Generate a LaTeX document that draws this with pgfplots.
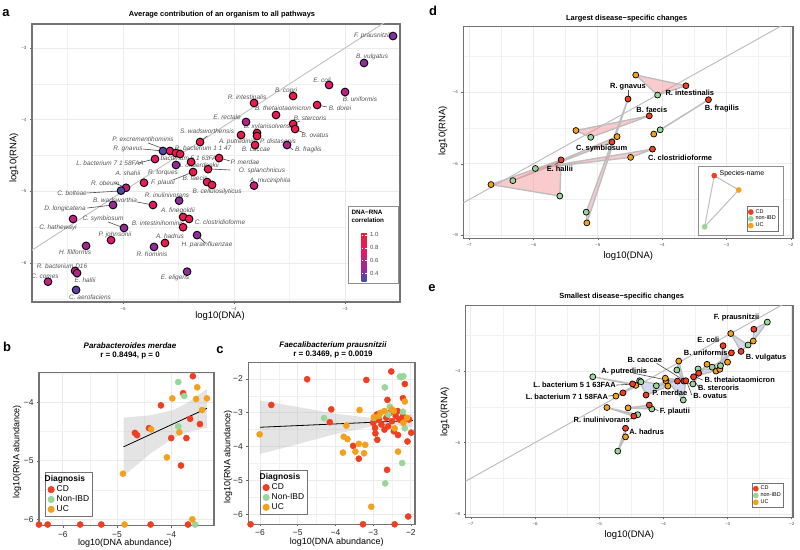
\documentclass[border=0pt]{standalone}
\usepackage{fontspec}
\setmainfont{Liberation Sans}
\usepackage{pgfplots}
\pgfplotsset{compat=1.18}
\newcommand{\fs}[1]{\fontsize{#1}{#1}\selectfont}
\definecolor{cd}{RGB}{240,62,32}
\definecolor{non}{RGB}{152,214,154}
\definecolor{uc}{RGB}{245,160,28}
\definecolor{gridc}{RGB}{235,235,235}
\definecolor{boxc}{RGB}{115,115,115}
\definecolor{labc}{RGB}{85,85,85}
\definecolor{linec}{RGB}{190,190,190}
\definecolor{pinkf}{RGB}{242,140,145}
\definecolor{bluef}{RGB}{170,180,220}
\pgfplotsset{
 gg/.style={scale only axis, anchor=south west,
  axis line style={boxc, line width=1.1pt},
  grid=both, major grid style={gridc, line width=0.8pt},
  minor grid style={gridc!70, line width=0.45pt},
  xtick pos=bottom, ytick pos=left, tick align=outside,
  major tick length=2pt, minor tick length=0pt,
  tick style={black!60, line width=0.5pt},
  /pgf/number format/assume math mode=true},
 smallticks/.style={tick label style={font=\fs{4.5}, text=black!70}},
 lead/.style={black!70, line width=0.6pt, forget plot},
 tri/.style={fill=pinkf, fill opacity=0.45, draw=linec, line width=1.4pt, forget plot},
 trib/.style={fill=bluef, fill opacity=0.5, draw=linec, line width=1.4pt, forget plot},
 ptD/.style={only marks, mark=*, mark size=3pt, mark options={draw=black, fill=#1, line width=0.7pt}, forget plot},
 ptB/.style={only marks, mark=*, mark size=3.1pt, color=#1, forget plot},
}
\tikzset{
 labA/.style={font=\fs{6.5}\itshape, text=labc, inner sep=0pt},
 labD/.style={font=\fs{7.5}\bfseries, inner sep=0pt},
}
\begin{document}
\begin{tikzpicture}[x=1bp,y=1bp]
\useasboundingbox (0,0) rectangle (800,550);

%%%%%%%%%%%%%%%% Panel a
\begin{axis}[gg, smallticks, at={(32bp,248bp)}, width=368bp, height=278bp,
 xmin=-5.82, xmax=-2.505, ymin=-6.543, ymax=-2.665,
 xtick={-5,-4,-3}, xticklabels={−5,−4,−3}, minor xtick={-5.5,-4.5,-3.5},
 ytick={-6,-5,-4,-3}, yticklabels={−6,−5,−4,−3}, minor ytick={-6.5,-5.5,-4.5,-3.5},
 colormap={corr}{rgb255(0cm)=(60,80,170); rgb255(3cm)=(140,45,160); rgb255(8cm)=(228,22,112); rgb255(14cm)=(245,30,45)},
 point meta min=0.27, point meta max=1.03,
 colorbar, colorbar style={at={(parent axis.south east)}, anchor=south east,
   xshift=-42bp, yshift=20bp, scale only axis, width=5bp, height=49bp,
   ytick={0.4,0.6,0.8,1.0}, yticklabels={0.4,0.6,0.8,1.0},
   yticklabel style={font=\fs{6}}, major tick length=1.5pt,
   ytick style={white, line width=0.5pt}, axis line style={draw=none}}]
\addplot[linec!90, line width=1pt, forget plot] coordinates {(-6,-6)(-2.4,-2.4)};
\draw[boxc!80, line width=0.9pt, fill=white] (rel axis cs:0.861,0.065) rectangle (rel axis cs:0.997,0.342);
\node[anchor=north west, font=\fs{6.3}\bfseries, align=left, inner sep=0pt] at (rel axis cs:0.868,0.33) {DNA−RNA\\[1.5pt]correlation};
\addplot[lead] coordinates {(-4.775,-4.325)(-4.604,-4.423)};
\addplot[lead] coordinates {(-4.820,-4.409)(-4.640,-4.437)};
\addplot[lead] coordinates {(-4.865,-4.604)(-4.712,-4.548)};
\addplot[lead] coordinates {(-5.324,-5.022)(-5.018,-4.994)};
\addplot[lead] coordinates {(-5.324,-5.232)(-5.090,-5.190)};
\addplot[lead] coordinates {(-4.874,-5.148)(-4.730,-5.190)};
\addplot[lead] coordinates {(-5.135,-5.427)(-4.991,-5.510)};
\addplot[lead] coordinates {(-4.550,-4.841)(-4.369,-4.729)};
\addplot[lead] coordinates {(-4.207,-4.688)(-4.036,-4.702)};
\addplot[lead] coordinates {(-4.135,-4.534)(-4.036,-4.576)};
\addplot[lead] coordinates {(-4.333,-5.608)(-4.261,-5.720)};
\addplot[lead] coordinates {(-5.072,-4.883)(-4.973,-4.953)};
\addplot[lead] coordinates {(-4.306,-4.311)(-4.243,-4.227)};
\addplot[lead] coordinates {(-3.252,-3.795)(-3.162,-3.823)};
\addplot[lead] coordinates {(-3.468,-4.060)(-3.405,-4.018)};
\addplot[lead] coordinates {(-3.450,-4.130)(-3.369,-4.186)};
\addplot[lead] coordinates {(-3.523,-4.353)(-3.468,-4.423)};
\addplot[scatter, only marks, mark=*, mark size=3.9pt, point meta=explicit,
  scatter/use mapped color={draw=black, fill=mapped color}, mark options={line width=0.9pt}]
 table[meta=c]{
x y c
-2.568 -2.833 0.42
-2.829 -3.209 0.45
-3.144 -3.516 0.72
-3.000 -3.614 0.58
-3.468 -3.670 0.92
-3.820 -3.767 0.90
-3.252 -3.795 0.85
-3.622 -3.934 0.82
-3.892 -4.032 0.55
-3.468 -4.060 0.85
-3.450 -4.130 0.88
-3.793 -4.186 0.90
-3.793 -4.228 0.88
-3.937 -4.214 0.90
-3.811 -4.353 0.85
-3.523 -4.353 0.55
-4.306 -4.311 0.90
-4.640 -4.437 0.32
-4.577 -4.437 0.80
-4.523 -4.465 0.85
-4.486 -4.479 0.85
-4.135 -4.535 0.88
-4.712 -4.549 0.75
-4.387 -4.590 0.85
-4.523 -4.632 0.45
-4.234 -4.690 0.90
-4.369 -4.730 0.88
-4.243 -4.870 0.85
-4.198 -4.910 0.85
-3.820 -4.920 0.65
-4.811 -4.880 0.85
-4.973 -4.950 0.60
-5.018 -4.990 0.30
-4.495 -5.130 0.45
-4.730 -5.190 0.75
-5.090 -5.190 0.48
-5.450 -5.385 0.60
-4.459 -5.357 0.85
-4.405 -5.385 0.85
-4.991 -5.510 0.45
-4.459 -5.500 0.85
-4.333 -5.610 0.45
-5.108 -5.680 0.72
-4.622 -5.720 0.85
-5.333 -5.760 0.50
-4.721 -5.775 0.45
-5.432 -6.110 0.65
-5.414 -6.140 0.55
-5.676 -6.260 0.60
-4.423 -6.120 0.45
-5.423 -6.375 0.35
};
\node[labA] at (axis cs:-2.757,-2.833) {F. prausnitzii};
\node[labA] at (axis cs:-2.757,-3.126) {B. vulgatus};
\node[labA] at (axis cs:-3.207,-3.446) {E. coli};
\node[labA] at (axis cs:-2.865,-3.711) {B. uniformis};
\node[labA] at (axis cs:-3.532,-3.600) {B. copri};
\node[labA] at (axis cs:-3.883,-3.683) {R. intestinalis};
\node[labA] at (axis cs:-3.045,-3.837) {B. dorei};
\node[labA] at (axis cs:-3.559,-3.837) {B. thetaiotaomicron};
\node[labA] at (axis cs:-4.063,-3.962) {E. rectale};
\node[labA] at (axis cs:-3.315,-3.976) {B. stercoris};
\node[labA] at (axis cs:-3.703,-4.102) {B. xylanisolvens};
\node[labA] at (axis cs:-3.270,-4.213) {B. ovatus};
\node[labA] at (axis cs:-4.243,-4.158) {S. wadsworthensis};
\node[labA] at (axis cs:-3.973,-4.311) {A. putredinis};
\node[labA] at (axis cs:-3.604,-4.297) {P. distasonis};
\node[labA] at (axis cs:-3.801,-4.420) {B. caccae};
\node[labA] at (axis cs:-3.330,-4.420) {B. fragilis};
\node[labA] at (axis cs:-4.820,-4.269) {P. excrementihominis};
\node[labA] at (axis cs:-4.955,-4.409) {R. gnavus};
\node[labA] at (axis cs:-4.279,-4.395) {R. bacterium 1 1 47};
\node[labA] at (axis cs:-4.423,-4.534) {L. bacterium 5 1 63FAA};
\node[labA] at (axis cs:-3.901,-4.590) {P. merdae};
\node[labA] at (axis cs:-5.117,-4.604) {L. bacterium 7 1 58FAA};
\node[labA] at (axis cs:-4.324,-4.632) {A. onderdonkii};
\node[labA] at (axis cs:-4.955,-4.743) {A. shahii};
\node[labA] at (axis cs:-4.640,-4.743) {R. torques};
\node[labA] at (axis cs:-3.748,-4.715) {O. splanchnicus};
\node[labA] at (axis cs:-4.640,-4.883) {F. plautii};
\node[labA] at (axis cs:-4.351,-4.813) {B. faecis};
\node[labA] at (axis cs:-3.676,-4.855) {A. muciniphila};
\node[labA] at (axis cs:-5.162,-4.883) {R. obeum};
\node[labA] at (axis cs:-5.459,-5.022) {C. bolteae};
\node[labA] at (axis cs:-4.153,-5.008) {B. cellulosilyticus};
\node[labA] at (axis cs:-4.604,-5.050) {R. inulinivorans};
\node[labA] at (axis cs:-5.072,-5.120) {B. wadsworthia};
\node[labA] at (axis cs:-5.523,-5.245) {D. longicatena};
\node[labA] at (axis cs:-4.505,-5.273) {A. finegoldii};
\node[labA] at (axis cs:-5.180,-5.385) {C. symbiosum};
\node[labA] at (axis cs:-4.126,-5.427) {C. clostridioforme};
\node[labA] at (axis cs:-4.685,-5.441) {B. intestinihominis};
\node[labA] at (axis cs:-5.586,-5.510) {C. hathewayi};
\node[labA] at (axis cs:-5.072,-5.608) {P. johnsonii};
\node[labA] at (axis cs:-4.577,-5.622) {A. hadrus};
\node[labA] at (axis cs:-4.243,-5.748) {H. parainfluenzae};
\node[labA] at (axis cs:-5.432,-5.845) {H. filiformis};
\node[labA] at (axis cs:-4.739,-5.873) {R. hominis};
\node[labA] at (axis cs:-5.550,-6.040) {R. bacterium D16};
\node[labA] at (axis cs:-5.703,-6.180) {C. comes};
\node[labA] at (axis cs:-5.342,-6.236) {E. hallii};
\node[labA] at (axis cs:-4.532,-6.208) {E. eligens};
\node[labA] at (axis cs:-5.297,-6.473) {C. aerofaciens};
\end{axis}

%%%%%%%%%%%%%%%% Panel b
\begin{axis}[gg, at={(39bp,24.3bp)}, width=175bp, height=153bp, clip=false,
 xmin=-6.44, xmax=-3.21, ymin=-6.11, ymax=-3.49,
 xtick={-6,-5,-4}, xticklabels={−6,−5,−4}, minor xtick={-5.5,-4.5,-3.5},
 ytick={-6,-5,-4}, yticklabels={−6,−5,−4}, minor ytick={-5.5,-4.5,-3.5},
 tick label style={font=\fs{8.5}, text=black!85},
 legend style={at={(0.034,0.057)}, anchor=south west, draw=boxc, line width=0.9pt,
   font=\fs{8.5}, inner sep=1.5pt, row sep=-1.5pt, legend cell align=left}]
\addplot[ptB=cd] coordinates {(-3.60,-3.55)(-3.78,-3.84)(-4.19,-4.05)(-3.65,-4.28)(-3.47,-4.37)(-4.41,-4.44)(-4.67,-4.52)(-4.63,-4.56)(-4.00,-4.61)(-3.72,-4.61)(-3.82,-5.08)(-6.44,-6.09)(-6.28,-6.09)(-5.68,-6.09)(-5.29,-6.09)(-4.38,-6.09)(-3.69,-6.09)};
\addplot[ptB=non] coordinates {(-3.87,-3.65)(-3.76,-3.89)(-3.87,-4.41)(-3.56,-6.09)};
\addplot[ptB=uc] coordinates {(-3.52,-3.74)(-3.98,-3.93)(-3.34,-3.93)(-3.54,-3.94)(-3.43,-4.13)(-4.37,-4.46)(-3.85,-4.51)(-4.08,-4.94)(-4.89,-5.22)(-3.61,-6.00)(-4.86,-6.09)};
\addplot[fill=gray!60, fill opacity=0.35, draw=none, forget plot] coordinates {(-4.88,-4.26)(-4.39,-4.22)(-3.96,-4.13)(-3.71,-4.01)(-3.34,-3.77)(-3.34,-4.43)(-3.71,-4.51)(-3.96,-4.61)(-4.39,-4.88)(-4.88,-5.26)} -- cycle;
\addplot[black, line width=0.8pt, forget plot] coordinates {(-4.88,-4.76)(-3.34,-4.10)};
\addlegendimage{empty legend}\addlegendentry{\hspace{-12pt}\textbf{Diagnosis}}
\addlegendimage{legend image code/.code={\fill[cd] (0.15cm,0cm) circle (3.1pt);}}\addlegendentry{CD}
\addlegendimage{legend image code/.code={\fill[non] (0.15cm,0cm) circle (3.1pt);}}\addlegendentry{Non-IBD}
\addlegendimage{legend image code/.code={\fill[uc] (0.15cm,0cm) circle (3.1pt);}}\addlegendentry{UC}
\end{axis}

%%%%%%%%%%%%%%%% Panel c
\begin{axis}[gg, at={(248.3bp,25.7bp)}, width=166.7bp, height=161.6bp, clip=false,
 xmin=-6.31, xmax=-1.89, ymin=-6.30, ymax=-1.52,
 xtick={-6,-5,-4,-3,-2}, xticklabels={−6,−5,−4,−3,−2}, minor xtick={-5.5,-4.5,-3.5,-2.5},
 ytick={-6,-5,-4,-3,-2}, yticklabels={−6,−5,−4,−3,−2}, minor ytick={-5.5,-4.5,-3.5,-2.5},
 tick label style={font=\fs{8.5}, text=black!85},
 legend style={at={(0.07,0.058)}, anchor=south west, draw=boxc, line width=0.9pt,
   font=\fs{8.5}, inner sep=1.5pt, row sep=-1.5pt, legend cell align=left}]
\addplot[ptB=cd] coordinates {(-4.75,-2.01)(-3.18,-2.03)(-2.52,-1.78)(-2.16,-2.15)(-4.11,-2.90)(-3.53,-3.98)(-3.38,-4.36)(-2.94,-3.61)(-2.89,-3.80)(-2.63,-4.69)(-2.07,-6.07)(-2.09,-3.85)(-1.99,-3.59)(-2.34,-3.66)(-2.21,-3.11)(-2.21,-2.57)(-2.62,-2.62)(-6.25,-6.30)(-3.27,-6.30)(-2.43,-6.30)(-5.70,-2.77)(-4.15,-3.28)(-2.90,-3.05)(-2.85,-3.20)(-2.65,-3.15)(-2.60,-3.40)(-2.55,-3.00)(-2.50,-3.25)(-2.40,-3.10)(-2.30,-3.20)(-2.05,-3.20)(-3.00,-3.30)(-2.95,-3.45)(-2.45,-3.55)(-2.70,-3.50)(-2.35,-2.95)(-2.78,-3.35)};
\addplot[ptB=non] coordinates {(-2.29,-1.93)(-2.25,-1.95)(-2.20,-1.92)(-2.69,-2.25)(-4.30,-3.16)(-2.68,-5.09)(-2.23,-4.49)(-2.16,-3.46)(-2.21,-2.97)(-2.56,-2.82)(-2.98,-3.15)(-2.60,-3.05)};
\addplot[ptB=uc] coordinates {(-3.36,-2.92)(-3.71,-3.38)(-6.01,-3.64)(-3.78,-3.71)(-3.68,-3.78)(-3.80,-4.18)(-3.38,-3.92)(-3.47,-4.15)(-3.24,-4.20)(-3.21,-3.95)(-2.98,-3.13)(-3.05,-5.78)(-2.34,-4.15)(-2.16,-2.67)(-2.43,-3.46)(-2.80,-3.00)(-2.70,-2.95)(-2.45,-2.95)(-2.20,-3.30)(-2.10,-3.15)(-2.85,-3.10)(-2.50,-2.90)};
\addplot[fill=gray!60, fill opacity=0.35, draw=none, forget plot] coordinates {(-6.0,-2.64)(-5.0,-2.83)(-4.0,-3.03)(-3.0,-3.16)(-2.5,-3.16)(-1.95,-3.03)(-1.95,-3.43)(-2.5,-3.36)(-3.0,-3.40)(-4.0,-3.63)(-5.0,-3.93)(-6.0,-4.22)} -- cycle;
\addplot[black, line width=0.8pt, forget plot] coordinates {(-6.0,-3.43)(-1.95,-3.23)};
\addlegendimage{empty legend}\addlegendentry{\hspace{-12pt}\textbf{Diagnosis}}
\addlegendimage{legend image code/.code={\fill[cd] (0.15cm,0cm) circle (3.1pt);}}\addlegendentry{CD}
\addlegendimage{legend image code/.code={\fill[non] (0.15cm,0cm) circle (3.1pt);}}\addlegendentry{Non-IBD}
\addlegendimage{legend image code/.code={\fill[uc] (0.15cm,0cm) circle (3.1pt);}}\addlegendentry{UC}
\end{axis}

%%%%%%%%%%%%%%%% Panel d
\begin{axis}[gg, smallticks, at={(463.3bp,311.7bp)}, width=329.7bp, height=211.6bp,
 xmin=-7.09, xmax=-1.966, ymin=-8.08, ymax=-2.17,
 xtick={-7,-6,-5,-4,-3,-2}, xticklabels={−7,−6,−5,−4,−3,−2}, minor xtick={-6.5,-5.5,-4.5,-3.5,-2.5},
 ytick={-8,-6,-4}, yticklabels={−8,−6,−4}, minor ytick={-7,-5,-3},
 legend style={at={(0.958,0.031)}, anchor=south east, draw=boxc, line width=0.9pt,
   font=\fs{5.5}, inner sep=1pt, row sep=-2.5pt, legend cell align=left}]
\addplot[linec, line width=1pt, forget plot] coordinates {(-8,-8)(-1.5,-1.5)};
\addplot[tri] coordinates {(-3.63,-3.82)(-4.07,-4.08)(-4.41,-3.52)} -- cycle;
\addplot[tri] coordinates {(-3.28,-4.21)(-4.03,-5.05)(-4.13,-5.17)} -- cycle;
\addplot[tri] coordinates {(-4.20,-4.66)(-5.11,-5.26)(-5.34,-5.07)} -- cycle;
\addplot[tri] coordinates {(-4.53,-4.19)(-5.18,-7.35)(-5.17,-7.65)} -- cycle;
\addplot[tri] coordinates {(-4.78,-5.39)(-6.32,-6.47)(-4.70,-5.24)} -- cycle;
\addplot[tri] coordinates {(-4.15,-5.59)(-5.97,-6.13)(-4.49,-5.82)} -- cycle;
\addplot[tri] coordinates {(-5.57,-5.89)(-5.59,-6.90)(-6.66,-6.58)} -- cycle;
\addplot[ptD=uc] coordinates {(-4.41,-3.52)(-5.34,-5.07)(-4.70,-5.24)(-4.13,-5.17)(-4.49,-5.82)(-6.66,-6.58)(-5.17,-7.65)};
\addplot[ptD=non] coordinates {(-4.07,-4.08)(-4.03,-5.05)(-5.11,-5.26)(-5.97,-6.13)(-6.32,-6.47)(-5.59,-6.90)(-5.18,-7.35)};
\addplot[ptD=cd] coordinates {(-3.63,-3.82)(-4.53,-4.19)(-3.28,-4.21)(-4.20,-4.66)(-4.78,-5.39)(-4.15,-5.59)(-5.57,-5.89)};
\addplot[lead] coordinates {(-4.53,-3.95)(-4.53,-4.10)};
\addplot[lead] coordinates {(-4.87,-5.48)(-4.80,-5.42)};
\addplot[lead] coordinates {(-5.66,-6.02)(-5.59,-5.94)};
\node[labD] at (axis cs:-4.53,-3.86) {R. gnavus};
\node[labD] at (axis cs:-3.57,-4.01) {R. intestinalis};
\node[labD] at (axis cs:-3.07,-4.46) {B. fragilis};
\node[labD] at (axis cs:-4.16,-4.48) {B. faecis};
\node[labD] at (axis cs:-4.94,-5.57) {C. symbiosum};
\node[labD] at (axis cs:-3.72,-5.82) {C. clostridioforme};
\node[labD] at (axis cs:-5.59,-6.15) {E. hallii};
\draw[boxc!80, line width=0.9pt, fill=white] (axis cs:-3.43,-6.08) rectangle (axis cs:-2.12,-7.99);
\addplot[linec, line width=1pt, forget plot] coordinates {(-3.19,-6.33)(-2.81,-6.73)(-3.34,-7.76)} -- cycle;
\addplot[ptB=cd, mark size=2.6pt] coordinates {(-3.19,-6.33)};
\addplot[ptB=uc, mark size=2.6pt] coordinates {(-2.81,-6.73)};
\addplot[ptB=non, mark size=2.6pt] coordinates {(-3.34,-7.76)};
\node[anchor=west, font=\fs{7}, inner sep=0pt] at (axis cs:-3.11,-6.27) {Species-name};
\addlegendimage{legend image code/.code={\fill[cd] (0.1cm,0cm) circle (2.4pt);}}\addlegendentry{CD}
\addlegendimage{legend image code/.code={\fill[non] (0.1cm,0cm) circle (2.4pt);}}\addlegendentry{non-IBD}
\addlegendimage{legend image code/.code={\fill[uc] (0.1cm,0cm) circle (2.4pt);}}\addlegendentry{UC}
\end{axis}

%%%%%%%%%%%%%%%% Panel e
\begin{axis}[gg, smallticks, at={(465.7bp,32.7bp)}, width=327.3bp, height=212bp,
 xmin=-7.08, xmax=-1.98, ymin=-8.09, ymax=-2.16,
 xtick={-7,-6,-5,-4,-3,-2}, xticklabels={−7,−6,−5,−4,−3,−2}, minor xtick={-6.5,-5.5,-4.5,-3.5,-2.5},
 ytick={-8,-6,-4}, yticklabels={−8,−6,−4}, minor ytick={-7,-5,-3},
 legend style={at={(0.973,0.042)}, anchor=south east, draw=boxc, line width=0.9pt,
   font=\fs{5.5}, inner sep=1pt, row sep=-2.5pt, legend cell align=left}]
\addplot[linec, line width=1pt, forget plot] coordinates {(-8,-8)(-1.5,-1.5)};
\addplot[trib] coordinates {(-2.59,-2.83)(-2.38,-2.63)(-2.60,-3.16)} -- cycle;
\addplot[trib] coordinates {(-2.79,-3.45)(-2.68,-3.27)(-2.95,-2.95)} -- cycle;
\addplot[trib] coordinates {(-3.07,-3.29)(-3.11,-3.85)(-3.00,-3.75)} -- cycle;
\addplot[trib] coordinates {(-2.94,-3.49)(-3.24,-3.89)(-3.18,-4.00)} -- cycle;
\addplot[trib] coordinates {(-3.68,-4.28)(-3.79,-3.97)(-3.76,-3.72)} -- cycle;
\addplot[trib] coordinates {(-3.45,-4.06)(-3.54,-4.36)(-3.32,-3.81)} -- cycle;
\addplot[trib] coordinates {(-3.53,-4.16)(-3.46,-3.94)(-3.12,-3.95)} -- cycle;
\addplot[trib] coordinates {(-3.78,-4.28)(-4.11,-4.41)(-3.96,-4.27)} -- cycle;
\addplot[trib] coordinates {(-3.65,-4.27)(-3.69,-4.81)(-3.97,-4.20)} -- cycle;
\addplot[trib] coordinates {(-4.27,-4.67)(-4.37,-4.27)(-3.93,-4.42)} -- cycle;
\addplot[trib] coordinates {(-4.22,-4.95)(-4.18,-5.06)(-4.55,-5.03)} -- cycle;
\addplot[trib] coordinates {(-4.48,-4.36)(-5.10,-4.16)(-4.43,-4.40)} -- cycle;
\addplot[trib] coordinates {(-4.63,-4.61)(-4.35,-4.30)(-4.74,-4.70)} -- cycle;
\addplot[trib] coordinates {(-4.46,-5.26)(-4.40,-5.22)(-4.88,-5.02)} -- cycle;
\addplot[trib] coordinates {(-4.59,-5.60)(-4.71,-6.24)(-4.59,-5.84)} -- cycle;
\addplot[ptD=uc] coordinates {(-2.60,-3.16)(-2.95,-2.95)(-3.00,-3.75)(-3.18,-4.00)(-3.76,-3.72)(-3.32,-3.81)(-3.12,-3.95)(-3.96,-4.27)(-3.97,-4.20)(-3.93,-4.42)(-4.55,-5.03)(-4.43,-4.40)(-4.74,-4.70)(-4.88,-5.02)(-4.59,-5.84)};
\addplot[ptD=non] coordinates {(-2.38,-2.63)(-2.68,-3.27)(-3.11,-3.85)(-3.24,-3.89)(-3.79,-3.97)(-3.54,-4.36)(-3.46,-3.94)(-4.11,-4.41)(-3.69,-4.81)(-4.37,-4.27)(-4.18,-5.06)(-5.10,-4.16)(-4.35,-4.30)(-4.40,-5.22)(-4.71,-6.24)};
\addplot[ptD=cd] coordinates {(-2.59,-2.83)(-2.79,-3.45)(-3.07,-3.29)(-2.94,-3.49)(-3.68,-4.28)(-3.45,-4.06)(-3.53,-4.16)(-3.78,-4.28)(-3.65,-4.27)(-4.27,-4.67)(-4.22,-4.95)(-4.48,-4.36)(-4.63,-4.61)(-4.46,-5.26)(-4.59,-5.60)};
\addplot[lead] coordinates {(-4.103,-3.785)(-3.558,-4.392)};
\addplot[lead] coordinates {(-4.472,-4.056)(-3.947,-4.252)};
\addplot[lead] coordinates {(-4.737,-4.392)(-4.472,-4.364)};
\addplot[lead] coordinates {(-4.857,-4.699)(-4.726,-4.671)};
\addplot[lead] coordinates {(-3.386,-4.252)(-3.506,-4.159)};
\addplot[lead] coordinates {(-3.439,-4.484)(-3.522,-4.252)};
\addplot[lead] coordinates {(-3.558,-4.671)(-3.636,-4.299)};
\addplot[lead] coordinates {(-4.078,-5.119)(-4.207,-4.971)};
\addplot[lead] coordinates {(-4.530,-5.351)(-4.441,-5.278)};
\node[labD] at (axis cs:-2.86,-2.50) {F. prausnitzii};
\node[labD] at (axis cs:-3.30,-3.13) {E. coli};
\node[labD] at (axis cs:-3.34,-3.50) {B. uniformis};
\node[labD] at (axis cs:-2.40,-3.61) {B. vulgatus};
\node[labD] at (axis cs:-4.29,-3.69) {B. caccae};
\node[labD] at (axis cs:-4.61,-4.00) {A. putredinis};
\node[labD, anchor=east] at (axis cs:-4.74,-4.39) {L. bacterium 5 1 63FAA};
\node[labD, anchor=east] at (axis cs:-4.86,-4.72) {L. bacterium 7 1 58FAA};
\node[labD] at (axis cs:-2.81,-4.25) {B. thetaiotaomicron};
\node[labD] at (axis cs:-3.14,-4.48) {B. stercoris};
\node[labD] at (axis cs:-3.90,-4.60) {P. merdae};
\node[labD] at (axis cs:-3.27,-4.70) {B. ovatus};
\node[labD] at (axis cs:-3.82,-5.12) {F. plautii};
\node[labD] at (axis cs:-4.96,-5.37) {R. inulinivorans};
\node[labD] at (axis cs:-4.26,-5.70) {A. hadrus};
\addlegendimage{legend image code/.code={\fill[cd] (0.1cm,0cm) circle (2.4pt);}}\addlegendentry{CD}
\addlegendimage{legend image code/.code={\fill[non] (0.1cm,0cm) circle (2.4pt);}}\addlegendentry{non-IBD}
\addlegendimage{legend image code/.code={\fill[uc] (0.1cm,0cm) circle (2.4pt);}}\addlegendentry{UC}
\end{axis}

%%%%%%%%%%%%%%%% texts
\node[font=\fs{13}\bfseries] at (6,537) {a};
\node[font=\fs{7.5}\bfseries] at (222,535) {Average contribution of an organism to all pathways};
\node[font=\fs{9.5}] at (220,234) {log10(DNA)};
\node[font=\fs{9.5}, rotate=90] at (14,392) {log10(RNA)};

\node[font=\fs{13}\bfseries] at (7,203) {b};
\node[font=\fs{8}\bfseries\itshape] at (130,204) {Parabacteroides merdae};
\node[font=\fs{8}\bfseries] at (130,194.5) {r = 0.8494, p = 0};
\node[font=\fs{9}] at (125,7) {log10(DNA abundance)};
\node[font=\fs{9}, rotate=90] at (17,98) {log10(RNA abundance)};

\node[font=\fs{13}\bfseries] at (220,200) {c};
\node[font=\fs{8}\bfseries\itshape] at (333,205) {Faecalibacterium prausnitzii};
\node[font=\fs{8}\bfseries] at (333,195) {r = 0.3469, p = 0.0019};
\node[font=\fs{9}] at (336.7,8.3) {log10(DNA abundance)};
\node[font=\fs{9}, rotate=90] at (228,93) {log10(RNA abundance)};

\node[font=\fs{13}\bfseries] at (433,539) {d};
\node[font=\fs{7.5}\bfseries] at (626.7,531) {Largest disease−specific changes};
\node[font=\fs{9.5}] at (628.3,294) {log10(DNA)};
\node[font=\fs{9.5}, rotate=90] at (443,419) {log10(RNA)};

\node[font=\fs{13}\bfseries] at (432,262) {e};
\node[font=\fs{7.5}\bfseries] at (621.7,253.3) {Smallest disease−specific changes};
\node[font=\fs{9.5}] at (629.3,15) {log10(DNA)};
\node[font=\fs{9.5}, rotate=90] at (445,138) {log10(RNA)};
\end{tikzpicture}
\end{document}
